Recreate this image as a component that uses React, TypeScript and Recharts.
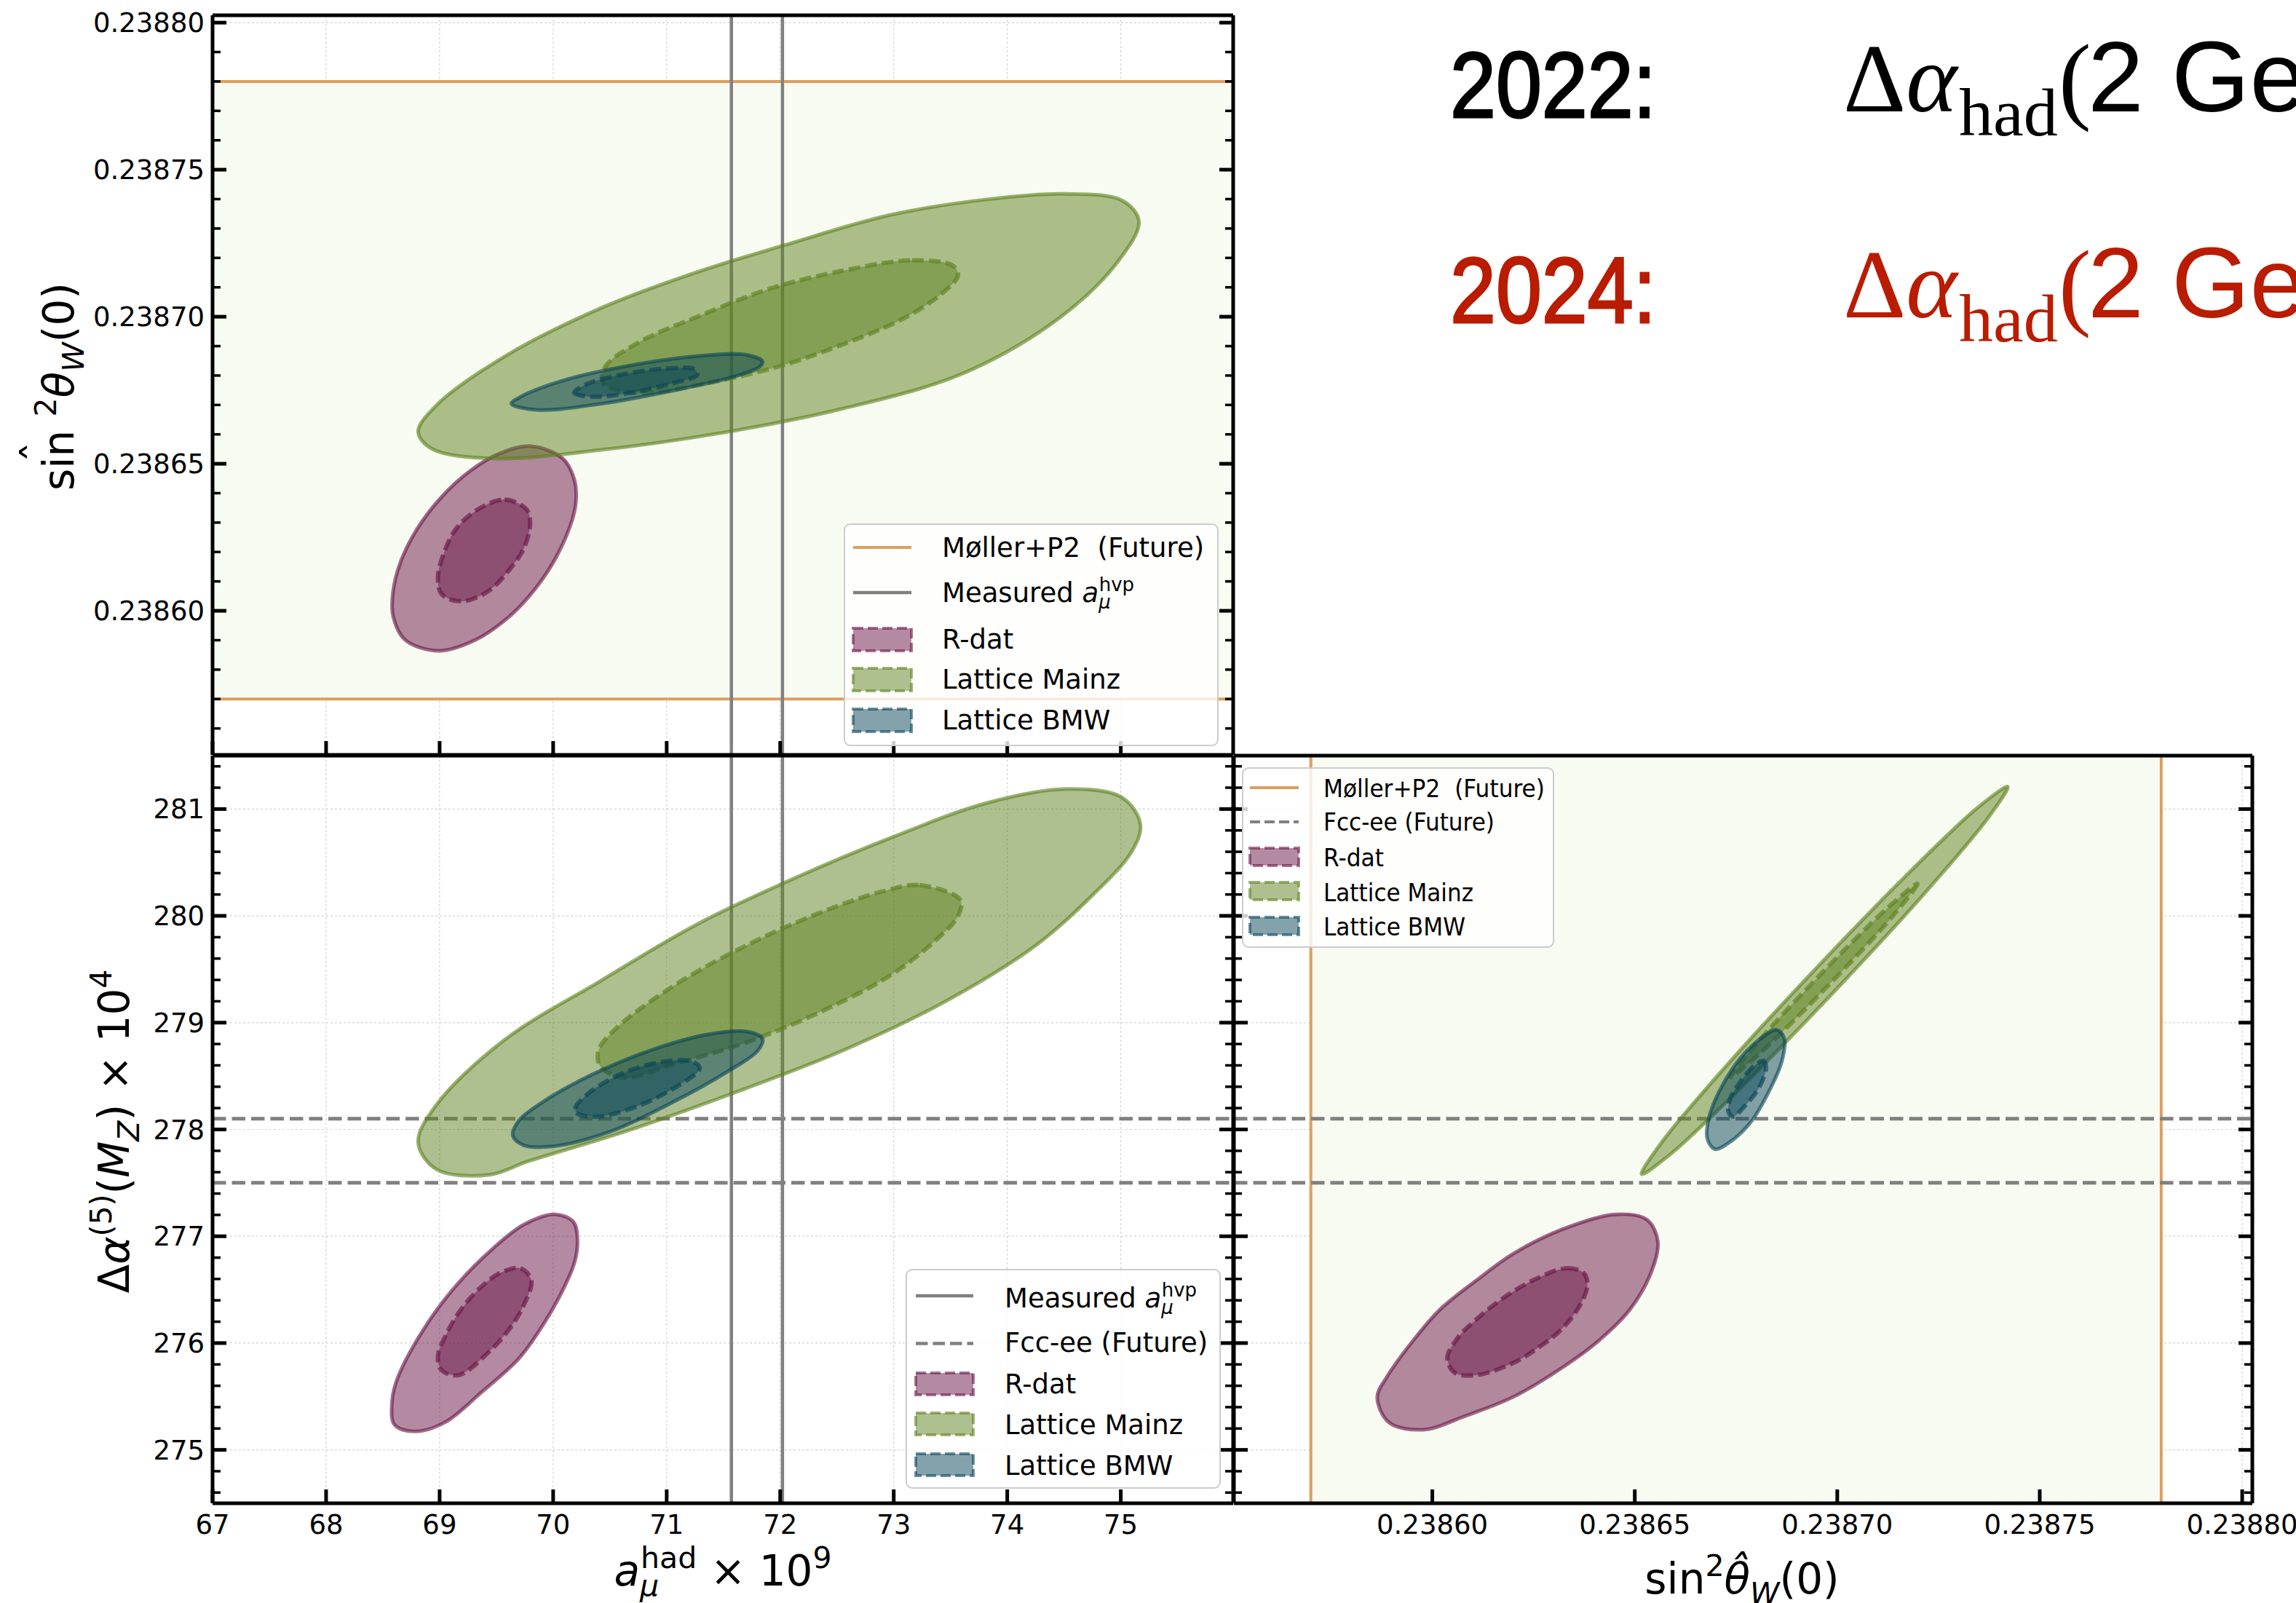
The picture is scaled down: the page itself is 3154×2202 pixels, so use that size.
import React from 'react';
import {
  ScatterChart, Scatter, XAxis, YAxis, CartesianGrid, ReferenceLine, ReferenceArea,
} from 'recharts';

type Pt = [number, number];

// axis ranges and ticks
const aMuDomain: [number, number] = [67, 75.99];
const sinDomain: [number, number] = [0.238551, 0.2388025];
const dAlphaDomain: [number, number] = [274.5, 281.5];

const aMuTicks = [67, 68, 69, 70, 71, 72, 73, 74, 75];
const sinTicks = [0.2386, 0.23865, 0.2387, 0.23875, 0.2388];
const dAlphaTicks = [275, 276, 277, 278, 279, 280, 281];

// reference values
const mollerBand = [0.23857, 0.23878];
const measuredAmu = [71.57, 72.02];
const fccLines = [277.5, 278.1];

// contours, top-left panel: x = a_mu^had, y = sin^2 theta_W(0)
const tlRdatOuter: Pt[] = [
  [69.797, 0.238656], [70.085, 0.2386518], [70.182, 0.2386452], [70.203, 0.2386387],
  [70.171, 0.2386313], [70.0, 0.2386164], [69.787, 0.2386049], [69.572, 0.2385967],
  [69.316, 0.2385901], [68.995, 0.2385864], [68.697, 0.2385901], [68.59, 0.2385983],
  [68.59, 0.2386065], [68.654, 0.2386164], [68.803, 0.2386279], [69.017, 0.2386387],
  [69.274, 0.2386477], [69.53, 0.2386535],
];
const tlRdatInner: Pt[] = [
  [69.572, 0.2386378], [69.765, 0.2386345], [69.797, 0.2386296], [69.744, 0.2386214],
  [69.615, 0.238614], [69.423, 0.2386065], [69.188, 0.2386032], [69.017, 0.2386057],
  [68.985, 0.2386115], [69.038, 0.2386197], [69.145, 0.2386279], [69.338, 0.2386345],
];
const tlMainzOuter: Pt[] = [
  [74.501, 0.2387418], [75.012, 0.2387395], [75.16, 0.2387325], [74.969, 0.2387185],
  [74.459, 0.2386996], [73.608, 0.2386807], [72.545, 0.2386687], [71.482, 0.2386605],
  [70.419, 0.2386547], [69.483, 0.2386518], [68.931, 0.2386551], [68.811, 0.2386609],
  [68.973, 0.2386699], [69.569, 0.2386864], [70.419, 0.2387029], [71.27, 0.2387152],
  [72.035, 0.2387243], [72.971, 0.2387346], [73.821, 0.2387399],
];
const tlMainzInner: Pt[] = [
  [73.162, 0.2387192], [73.523, 0.2387173], [73.566, 0.238714], [73.396, 0.238707],
  [73.055, 0.2386988], [72.545, 0.2386905], [71.992, 0.2386831], [71.354, 0.2386774],
  [70.759, 0.2386741], [70.44, 0.2386774], [70.461, 0.2386831], [70.759, 0.2386914],
  [71.27, 0.2387], [71.907, 0.2387095], [72.545, 0.2387156],
];
const tlBmwOuter: Pt[] = [
  [69.632, 0.2386704], [69.866, 0.2386683], [70.419, 0.2386704], [71.057, 0.2386749],
  [71.61, 0.2386798], [71.822, 0.2386831], [71.844, 0.2386848], [71.695, 0.2386871],
  [71.27, 0.2386866], [70.632, 0.2386831], [70.078, 0.2386782], [69.696, 0.2386724],
];
const tlBmwInner: Pt[] = [
  [70.185, 0.2386741], [70.334, 0.2386728], [70.674, 0.2386741], [71.057, 0.2386774],
  [71.27, 0.2386802], [71.248, 0.2386821], [70.972, 0.2386823], [70.589, 0.2386802],
  [70.291, 0.238677],
];

// bottom-left panel: x = a_mu^had, y = delta alpha x 10^4
const blRdatOuter: Pt[] = [
  [70.021, 277.205], [70.18, 277.132], [70.214, 276.973], [70.192, 276.769],
  [70.085, 276.496], [69.915, 276.178], [69.701, 275.859], [69.359, 275.53],
  [69.052, 275.261], [68.787, 275.173], [68.603, 275.235], [68.582, 275.462],
  [68.632, 275.678], [68.889, 276.178], [69.167, 276.564], [69.466, 276.882],
  [69.744, 277.11],
];
const blRdatInner: Pt[] = [
  [69.712, 276.7], [69.808, 276.587], [69.744, 276.36], [69.615, 276.132],
  [69.423, 275.905], [69.167, 275.7], [69.017, 275.746], [68.985, 275.882],
  [69.06, 276.087], [69.188, 276.314], [69.359, 276.519], [69.53, 276.655],
];
const blMainzOuter: Pt[] = [
  [74.523, 281.188], [75.012, 281.107], [75.173, 280.855], [75.097, 280.603],
  [74.756, 280.199], [74.246, 279.72], [73.396, 279.165], [72.545, 278.736],
  [71.695, 278.383], [70.632, 277.98], [69.781, 277.702], [69.441, 277.576],
  [68.973, 277.626], [68.811, 277.879], [68.973, 278.232], [69.569, 278.837],
  [70.419, 279.392], [71.27, 279.922], [72.12, 280.35], [72.971, 280.729],
  [73.821, 281.057],
];
const blMainzInner: Pt[] = [
  [73.226, 280.288], [73.587, 280.148], [73.566, 279.997], [73.396, 279.796],
  [72.971, 279.443], [72.333, 279.09], [71.695, 278.812], [71.057, 278.61],
  [70.632, 278.484], [70.419, 278.585], [70.398, 278.736], [70.546, 278.938],
  [71.057, 279.342], [71.695, 279.72], [72.333, 280.022], [72.886, 280.224],
];
const blBmwOuter: Pt[] = [
  [69.645, 277.942], [69.739, 277.853], [69.994, 277.841], [70.504, 277.98],
  [71.057, 278.257], [71.525, 278.535], [71.801, 278.736], [71.844, 278.85],
  [71.695, 278.918], [71.354, 278.888], [70.844, 278.736], [70.334, 278.509],
  [69.908, 278.257], [69.696, 278.08],
];
const blBmwInner: Pt[] = [
  [70.206, 278.156], [70.376, 278.119], [70.716, 278.207], [71.099, 278.408],
  [71.291, 278.572], [71.227, 278.635], [70.972, 278.635], [70.632, 278.535],
  [70.334, 278.358], [70.198, 278.207],
];

// bottom-right panel: x = sin^2 theta_W(0), y = delta alpha x 10^4
const brRdatOuter: Pt[] = [
  [0.2386452, 277.205], [0.238653, 277.155], [0.2386557, 276.95], [0.2386542, 276.677],
  [0.2386488, 276.314], [0.238641, 276.019], [0.238632, 275.768], [0.23862, 275.496],
  [0.2386079, 275.314], [0.2385978, 275.189], [0.2385893, 275.257], [0.2385864, 275.496],
  [0.2385887, 275.678], [0.2385947, 275.996], [0.2386019, 276.314], [0.2386109, 276.587],
  [0.23862, 276.837], [0.238632, 277.064],
];
const brRdatInner: Pt[] = [
  [0.2386332, 276.7], [0.2386374, 276.655], [0.2386383, 276.541], [0.2386362, 276.337],
  [0.238632, 276.132], [0.238626, 275.951], [0.23862, 275.814], [0.2386109, 275.7],
  [0.2386055, 275.723], [0.2386037, 275.859], [0.2386061, 276.041], [0.2386109, 276.223],
  [0.2386169, 276.405], [0.2386248, 276.587],
];
const brMainzOuter: Pt[] = [
  [0.2387421, 281.209], [0.2387373, 280.92], [0.2387218, 280.221], [0.2386995, 279.302],
  [0.2386766, 278.408], [0.2386591, 277.778], [0.2386517, 277.582], [0.2386565, 277.872],
  [0.238672, 278.57], [0.2386943, 279.489], [0.2387172, 280.384], [0.2387347, 281.014],
];
const brMainzInner: Pt[] = [
  [0.2387198, 280.301], [0.2387139, 280.006], [0.2386979, 279.353], [0.2386812, 278.724],
  [0.2386736, 278.489], [0.2386796, 278.784], [0.2386955, 279.437], [0.2387122, 280.066],
];
const brBmwOuter: Pt[] = [
  [0.238685, 278.933], [0.2386869, 278.855], [0.2386863, 278.636], [0.2386831, 278.354],
  [0.2386787, 278.072], [0.2386736, 277.885], [0.2386698, 277.816], [0.2386679, 277.916],
  [0.2386685, 278.135], [0.2386717, 278.417], [0.2386761, 278.667], [0.2386812, 278.855],
];
const brBmwInner: Pt[] = [
  [0.2386818, 278.642], [0.2386824, 278.573], [0.2386806, 278.385], [0.2386774, 278.229],
  [0.2386742, 278.119], [0.2386731, 278.166], [0.2386736, 278.291], [0.2386761, 278.448],
  [0.2386793, 278.589],
];

const colors = { rdat: '#6a1547', mainz: '#5e811f', bmw: '#0a4558' };
const orange = '#dd9f5e';
const grey = '#808080';
const bandFill = '#f8fbf1';

interface Contour { pts: Pt[]; color: string; inner: boolean }

const tlContours: Contour[] = [
  { pts: tlRdatOuter, color: colors.rdat, inner: false },
  { pts: tlRdatInner, color: colors.rdat, inner: true },
  { pts: tlMainzOuter, color: colors.mainz, inner: false },
  { pts: tlMainzInner, color: colors.mainz, inner: true },
  { pts: tlBmwOuter, color: colors.bmw, inner: false },
  { pts: tlBmwInner, color: colors.bmw, inner: true },
];
const blContours: Contour[] = [
  { pts: blRdatOuter, color: colors.rdat, inner: false },
  { pts: blRdatInner, color: colors.rdat, inner: true },
  { pts: blMainzOuter, color: colors.mainz, inner: false },
  { pts: blMainzInner, color: colors.mainz, inner: true },
  { pts: blBmwOuter, color: colors.bmw, inner: false },
  { pts: blBmwInner, color: colors.bmw, inner: true },
];
const brContours: Contour[] = [
  { pts: brRdatOuter, color: colors.rdat, inner: false },
  { pts: brRdatInner, color: colors.rdat, inner: true },
  { pts: brMainzOuter, color: colors.mainz, inner: false },
  { pts: brMainzInner, color: colors.mainz, inner: true },
  { pts: brBmwOuter, color: colors.bmw, inner: false },
  { pts: brBmwInner, color: colors.bmw, inner: true },
];

function minorTicks(lo: number, hi: number, step: number) {
  const out: number[] = [];
  for (let k = Math.ceil(lo / step - 1e-9); k <= Math.floor(hi / step + 1e-9); k++) {
    if (k % 5 !== 0) out.push(Number((k * step).toFixed(6)));
  }
  return out;
}

const aMuMinor = minorTicks(aMuDomain[0], aMuDomain[1], 0.2);
const sinMinor = minorTicks(sinDomain[0], sinDomain[1], 0.00001);
const dAlphaMinor = minorTicks(dAlphaDomain[0], dAlphaDomain[1], 0.2);

const toData = (pts: Pt[]) => pts.map(([x, y]) => ({ x, y }));

// centripetal catmull-rom, closed, through the projected points
function closedPath(p: { x: number; y: number }[]) {
  const n = p.length;
  const dist = (a: { x: number; y: number }, b: { x: number; y: number }) =>
    Math.max(Math.hypot(b.x - a.x, b.y - a.y), 1e-6);
  let d = `M${p[0].x},${p[0].y}`;
  for (let i = 0; i < n; i++) {
    const p0 = p[(i - 1 + n) % n], p1 = p[i], p2 = p[(i + 1) % n], p3 = p[(i + 2) % n];
    const l01 = dist(p0, p1), l12 = dist(p1, p2), l23 = dist(p2, p3);
    const a01 = Math.sqrt(l01), a12 = Math.sqrt(l12), a23 = Math.sqrt(l23);
    const A = 2 * l01 + 3 * a01 * a12 + l12, N = 3 * a01 * (a01 + a12);
    const B = 2 * l23 + 3 * a23 * a12 + l12, M = 3 * a23 * (a23 + a12);
    const c1x = (p1.x * A - p0.x * l12 + p2.x * l01) / N;
    const c1y = (p1.y * A - p0.y * l12 + p2.y * l01) / N;
    const c2x = (p2.x * B + p1.x * l23 - p3.x * l12) / M;
    const c2y = (p2.y * B + p1.y * l23 - p3.y * l12) / M;
    d += `C${c1x},${c1y},${c2x},${c2y},${p2.x},${p2.y}`;
  }
  return d + 'Z';
}

const ClosedContour = (props: any) => {
  const { points, paint } = props;
  if (!points || points.length < 3) return null;
  return <path d={closedPath(points)} {...paint} />;
};
const NoShape = () => null;

const paint = (c: Contour) => c.inner
  ? { fill: c.color, fillOpacity: 0.5, stroke: c.color, strokeOpacity: 0.65, strokeWidth: 6, strokeDasharray: '16 7' }
  : { fill: c.color, fillOpacity: 0.5, stroke: c.color, strokeOpacity: 0.62, strokeWidth: 5 };

const spine = { stroke: '#000', strokeWidth: 5 };

type Side = 'bottom' | 'top' | 'left' | 'right';

// inward tick mark (matplotlib direction='in') plus optional outside label
function makeTick(side: Side, len: number, w: number, fmt?: (v: number) => string) {
  return (props: any) => {
    const { x, y, payload } = props;
    const ln = { stroke: '#000', strokeWidth: w };
    let mark;
    if (side === 'bottom') mark = <line x1={x} x2={x} y1={y} y2={y - len} {...ln} />;
    else if (side === 'top') mark = <line x1={x} x2={x} y1={y} y2={y + len} {...ln} />;
    else if (side === 'left') mark = <line x1={x} x2={x + len} y1={y} y2={y} {...ln} />;
    else mark = <line x1={x} x2={x - len} y1={y} y2={y} {...ln} />;
    let label = null;
    if (fmt && side === 'bottom') {
      label = <text x={x} y={y + 42} textAnchor="middle" fontSize={37} fontFamily="DejaVu Sans" fill="#000">{fmt(payload.value)}</text>;
    } else if (fmt && side === 'left') {
      label = <text x={x - 11} y={y + 13} textAnchor="end" fontSize={37} fontFamily="DejaVu Sans" fill="#000">{fmt(payload.value)}</text>;
    }
    return <g>{mark}{label}</g>;
  };
}

interface PanelProps {
  left: number; top: number; width: number; height: number;
  margin: { top: number; right: number; bottom: number; left: number };
  xDomain: [number, number]; yDomain: [number, number];
  xTicks: number[]; yTicks: number[]; xMinor: number[]; yMinor: number[];
  xFmt?: (v: number) => string; yFmt?: (v: number) => string;
  contours: Contour[];
  under: React.ReactNode[]; over: React.ReactNode[];
}

function Panel(p: PanelProps) {
  const common = { type: 'number' as const, allowDataOverflow: true, interval: 0, tickSize: 0, tickMargin: 0, tickLine: false };
  return (
    <div style={{ position: 'absolute', left: p.left, top: p.top, width: p.width, height: p.height }}>
      <ScatterChart width={p.width} height={p.height} margin={p.margin}>
        {p.under}
        <CartesianGrid stroke="#d2d2d2" strokeWidth={1.2} strokeDasharray="3 3" />
        {p.contours.map((c, i) => (
          <Scatter
            key={'c' + i}
            data={toData(c.pts)}
            isAnimationActive={false}
            shape={<NoShape />}
            line={<ClosedContour paint={paint(c)} />}
            lineType="joint"
            legendType="none"
          />
        ))}
        {p.over}
        <XAxis {...common} xAxisId={0} orientation="bottom" dataKey="x" domain={p.xDomain} ticks={p.xTicks}
          height={1} axisLine={spine} tick={makeTick('bottom', 19, 5, p.xFmt)} />
        <XAxis {...common} xAxisId="xbm" orientation="bottom" domain={p.xDomain} ticks={p.xMinor}
          height={1} axisLine={false} tick={makeTick('bottom', 12, 3.5)} />
        <XAxis {...common} xAxisId="xt" orientation="top" domain={p.xDomain} ticks={p.xTicks}
          height={1} axisLine={spine} tick={makeTick('top', 19, 5)} />
        <XAxis {...common} xAxisId="xtm" orientation="top" domain={p.xDomain} ticks={p.xMinor}
          height={1} axisLine={false} tick={makeTick('top', 12, 3.5)} />
        <YAxis {...common} yAxisId={0} orientation="left" dataKey="y" domain={p.yDomain} ticks={p.yTicks}
          width={1} axisLine={spine} tick={makeTick('left', 19, 5, p.yFmt)} />
        <YAxis {...common} yAxisId="ylm" orientation="left" domain={p.yDomain} ticks={p.yMinor}
          width={1} axisLine={false} tick={makeTick('left', 12, 3.5)} />
        <YAxis {...common} yAxisId="yr" orientation="right" domain={p.yDomain} ticks={p.yTicks}
          width={1} axisLine={spine} tick={makeTick('right', 19, 5)} />
        <YAxis {...common} yAxisId="yrm" orientation="right" domain={p.yDomain} ticks={p.yMinor}
          width={1} axisLine={false} tick={makeTick('right', 12, 3.5)} />
      </ScatterChart>
    </div>
  );
}

const fmtSin = (v: number) => v.toFixed(5);
const fmtInt = (v: number) => String(v);

const dashed = '18.5 8';

function LegendPatch({ x, y, w, h, color }: { x: number; y: number; w: number; h: number; color: string }) {
  return <rect x={x} y={y} width={w} height={h} fill={color} fillOpacity={0.5} stroke={color} strokeOpacity={0.6} strokeWidth={4} strokeDasharray="14 6" />;
}

function Overlay() {
  const lf = { fontFamily: 'DejaVu Sans', fontSize: 37, fill: '#000' };
  const sf = { fontFamily: 'DejaVu Sans', fontSize: 34, fill: '#000' };
  const lab = { fontFamily: 'DejaVu Sans', fontSize: 58, fill: '#000' };
  const row = (dy: number, color: string) => (
    <g key={dy} fill={color}>
      <text x={1992} y={160.7 + dy} fontFamily="Liberation Sans" fontSize={128} stroke={color} strokeWidth={3}
        textLength={283} lengthAdjust="spacingAndGlyphs">
        {dy ? '2024:' : '2022:'}
      </text>
      <text x={2532} y={153 + dy} fontFamily="Liberation Serif" fontSize={134}>
        Δ<tspan fontStyle="italic">α</tspan>
      </text>
      <text x={2691} y={186 + dy} fontFamily="Liberation Serif" fontSize={94}>had</text>
      <text x={2828} y={153 + dy} fontFamily="Liberation Serif" fontSize={134}>(</text>
      <text x={2868} y={153 + dy} fontFamily="Liberation Sans" fontSize={138}>2 GeV)</text>
    </g>
  );
  const measured = (x: number, y: number) => (
    <text x={x} y={y} {...lf} style={{ whiteSpace: 'pre' }}>
      Measured <tspan fontStyle="italic">a</tspan>
      <tspan fontSize={26} fontStyle="italic" dy={9}>μ</tspan>
      <tspan fontSize={26} dx={-16} dy={-24}>hvp</tspan>
    </text>
  );
  return (
    <svg width={3154} height={2202} style={{ position: 'absolute', left: 0, top: 0, pointerEvents: 'none' }}>
      {row(0, '#000')}
      {row(282.5, '#b91c00')}

      {/* axis titles */}
      <g transform="translate(101,531) rotate(-90)">
        <text x={0} y={0} textAnchor="middle" {...lab} style={{ whiteSpace: 'pre' }}>
          sin <tspan fontSize={41} dy={-24}>2</tspan>
          <tspan fontStyle="italic" dy={24}>θ</tspan>
          <tspan fontSize={41} fontStyle="italic" dy={14}>W</tspan>
          <tspan dy={-14}>(0)</tspan>
        </text>
        <text x={-90} y={-28} textAnchor="middle" {...lab}>ˆ</text>
      </g>
      <g transform="translate(177,1554) rotate(-90)">
        <text x={0} y={0} textAnchor="middle" {...lab} style={{ whiteSpace: 'pre' }}>
          Δ<tspan fontStyle="italic">α</tspan>
          <tspan fontSize={41} dy={-24}>(5)</tspan>
          <tspan dy={24}>(</tspan><tspan fontStyle="italic">M</tspan>
          <tspan fontSize={41} fontStyle="italic" dy={14}>Z</tspan>
          <tspan dy={-14}>) × 10</tspan>
          <tspan fontSize={41} dy={-24}>4</tspan>
        </text>
      </g>
      <text x={993} y={2178} textAnchor="middle" {...lab} style={{ whiteSpace: 'pre' }}>
        <tspan fontStyle="italic">a</tspan>
        <tspan fontSize={41} fontStyle="italic" dy={14}>μ</tspan>
        <tspan fontSize={41} dx={-25} dy={-38}>had</tspan>
        <tspan dy={24}> × 10</tspan>
        <tspan fontSize={41} dy={-24}>9</tspan>
      </text>
      <text x={2393} y={2189} textAnchor="middle" {...lab}>
        sin<tspan fontSize={41} dy={-24}>2</tspan>
        <tspan fontStyle="italic" dy={24}>{'θ\u0302'}</tspan>
        <tspan fontSize={41} fontStyle="italic" dy={14}>W</tspan>
        <tspan dy={-14}>(0)</tspan>
      </text>

      {/* legend, top-left */}
      <rect x={1160} y={720} width={513} height={304} rx={8} fill="#fff" fillOpacity={0.8} stroke="#cccccc" strokeWidth={2} />
      <line x1={1172} x2={1252} y1={752} y2={752} stroke={orange} strokeWidth={4} />
      <text x={1294} y={765} {...lf} style={{ whiteSpace: 'pre' }}>Møller+P2  (Future)</text>
      <line x1={1172} x2={1252} y1={814} y2={814} stroke={grey} strokeWidth={4.5} />
      {measured(1294, 827)}
      <LegendPatch x={1172} y={863} w={80} h={31} color={colors.rdat} />
      <text x={1294} y={891} {...lf}>R-dat</text>
      <LegendPatch x={1172} y={918} w={80} h={31} color={colors.mainz} />
      <text x={1294} y={946} {...lf}>Lattice Mainz</text>
      <LegendPatch x={1172} y={974} w={80} h={31} color={colors.bmw} />
      <text x={1294} y={1002} {...lf}>Lattice BMW</text>

      {/* legend, bottom-left */}
      <rect x={1245} y={1744} width={431} height={300} rx={8} fill="#fff" fillOpacity={0.8} stroke="#cccccc" strokeWidth={2} />
      <line x1={1258} x2={1337} y1={1780} y2={1780} stroke={grey} strokeWidth={4.5} />
      {measured(1380, 1796)}
      <line x1={1258} x2={1337} y1={1845.5} y2={1845.5} stroke={grey} strokeWidth={4.5} strokeDasharray="16.5 7" />
      <text x={1380} y={1857} {...lf}>Fcc-ee (Future)</text>
      <LegendPatch x={1258} y={1886} w={79} h={30} color={colors.rdat} />
      <text x={1380} y={1914} {...lf}>R-dat</text>
      <LegendPatch x={1258} y={1941} w={79} h={30} color={colors.mainz} />
      <text x={1380} y={1970} {...lf}>Lattice Mainz</text>
      <LegendPatch x={1258} y={1997} w={79} h={30} color={colors.bmw} />
      <text x={1380} y={2026} {...lf}>Lattice BMW</text>

      {/* legend, bottom-right */}
      <rect x={1707} y={1055} width={427} height={246} rx={8} fill="#fff" fillOpacity={0.8} stroke="#cccccc" strokeWidth={2} />
      <line x1={1717} x2={1784} y1={1082} y2={1082} stroke={orange} strokeWidth={4} />
      <text x={1818} y={1095} {...sf} textLength={304} lengthAdjust="spacingAndGlyphs" style={{ whiteSpace: 'pre' }}>Møller+P2  (Future)</text>
      <line x1={1717} x2={1784} y1={1129} y2={1129} stroke={grey} strokeWidth={4} strokeDasharray="14 6" />
      <text x={1818} y={1141} {...sf} textLength={235} lengthAdjust="spacingAndGlyphs">Fcc-ee (Future)</text>
      <LegendPatch x={1717} y={1165} w={67} h={24} color={colors.rdat} />
      <text x={1818} y={1190} {...sf} textLength={83} lengthAdjust="spacingAndGlyphs">R-dat</text>
      <LegendPatch x={1717} y={1212} w={67} h={24} color={colors.mainz} />
      <text x={1818} y={1238} {...sf} textLength={206} lengthAdjust="spacingAndGlyphs">Lattice Mainz</text>
      <LegendPatch x={1717} y={1260} w={67} h={24} color={colors.bmw} />
      <text x={1818} y={1285} {...sf} textLength={195} lengthAdjust="spacingAndGlyphs">Lattice BMW</text>
    </svg>
  );
}

export default function App() {
  return (
    <div style={{ position: 'absolute', left: 0, top: 0, width: 3154, height: 2202, overflow: 'hidden', background: '#fff', fontFamily: 'DejaVu Sans' }}>
      <Panel
        left={0} top={0} width={1700} height={1040}
        margin={{ top: 19, right: 4, bottom: 1, left: 290 }}
        xDomain={aMuDomain} yDomain={sinDomain}
        xTicks={aMuTicks} yTicks={sinTicks} xMinor={aMuMinor} yMinor={sinMinor}
        yFmt={fmtSin}
        contours={tlContours}
        under={[
          <ReferenceArea key="band" y1={mollerBand[0]} y2={mollerBand[1]} fill={bandFill} fillOpacity={1} stroke="none" />,
        ]}
        over={[
          ...mollerBand.map((v) => <ReferenceLine key={'m' + v} y={v} stroke={orange} strokeWidth={4} />),
          ...measuredAmu.map((v) => <ReferenceLine key={'a' + v} x={v} stroke={grey} strokeWidth={4.5} />),
        ]}
      />
      <Panel
        left={0} top={1000} width={1700} height={1202}
        margin={{ top: 36, right: 4, bottom: 135, left: 290 }}
        xDomain={aMuDomain} yDomain={dAlphaDomain}
        xTicks={aMuTicks} yTicks={dAlphaTicks} xMinor={aMuMinor} yMinor={dAlphaMinor}
        xFmt={fmtInt} yFmt={fmtInt}
        contours={blContours}
        under={[]}
        over={[
          ...fccLines.map((v) => <ReferenceLine key={'f' + v} y={v} stroke={grey} strokeWidth={5} strokeDasharray={dashed} />),
          ...measuredAmu.map((v) => <ReferenceLine key={'a' + v} x={v} stroke={grey} strokeWidth={4.5} />),
        ]}
      />
      <Panel
        left={1650} top={1000} width={1504} height={1202}
        margin={{ top: 36, right: 58, bottom: 135, left: 43 }}
        xDomain={sinDomain} yDomain={dAlphaDomain}
        xTicks={sinTicks} yTicks={dAlphaTicks} xMinor={sinMinor} yMinor={dAlphaMinor}
        xFmt={fmtSin}
        contours={brContours}
        under={[
          <ReferenceArea key="band" x1={mollerBand[0]} x2={mollerBand[1]} fill={bandFill} fillOpacity={1} stroke="none" />,
        ]}
        over={[
          ...mollerBand.map((v) => <ReferenceLine key={'m' + v} x={v} stroke={orange} strokeWidth={4} />),
          ...fccLines.map((v) => <ReferenceLine key={'f' + v} y={v} stroke={grey} strokeWidth={5} strokeDasharray={dashed} />),
        ]}
      />
      <Overlay />
    </div>
  );
}
